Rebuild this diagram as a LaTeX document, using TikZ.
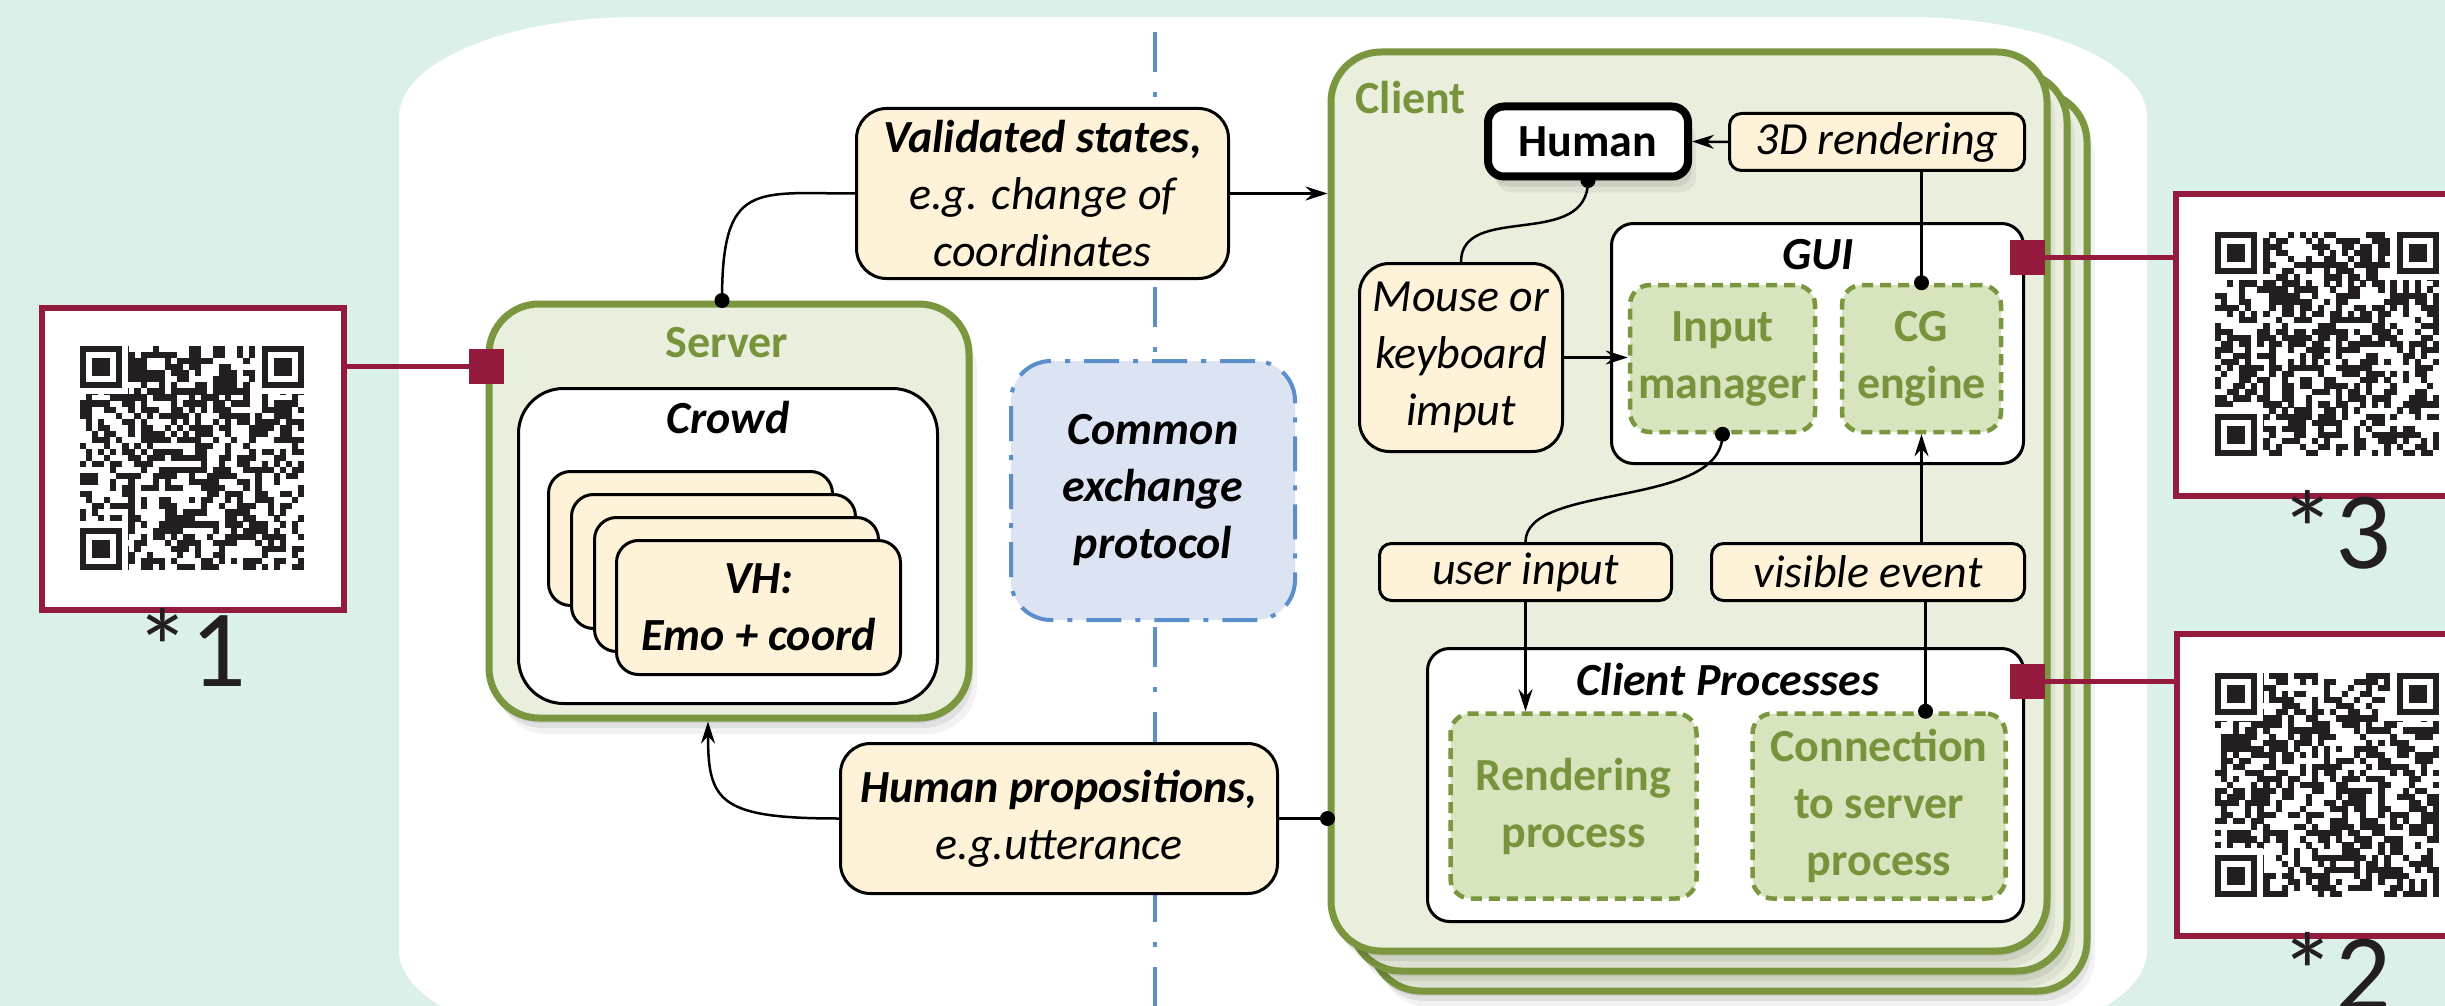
\documentclass[tikz,border=0pt]{standalone}
\usepackage{fontspec}
\setmainfont{Carlito}
\usetikzlibrary{arrows.meta}
\definecolor{bgc}{HTML}{DCF0EA}
\definecolor{grn}{HTML}{7A963E}
\definecolor{lgrn}{HTML}{E9EEDD}
\definecolor{dgf}{HTML}{D7E4BD}
\definecolor{gtxt}{HTML}{77933C}
\definecolor{cream}{HTML}{FEF2D9}
\definecolor{qred}{HTML}{951B3E}
\definecolor{blu}{HTML}{5B8FCC}
\definecolor{bluf}{HTML}{DCE3F2}
\definecolor{qrc}{HTML}{231F20}
\newcommand\fs{\fontsize{46}{57}\selectfont}
\newcommand\fbig{\fontsize{110}{120}\selectfont}
\newcommand\myqr[3]{%
\begin{scope}[shift={(#1,#2)}]
\pgfmathsetseed{#3}
\foreach \i in {0,...,36}{\foreach \j in {0,...,36}{%
\pgfmathrandominteger{\rr}{0}{1}%
\ifnum\rr=1 \fill[qrc] ({\i*6.05},{\j*6.05}) rectangle ++(6.15,6.15);\fi}}
\foreach \a/\b in {0/0,30/0,0/30}{%
\fill[white] ({(\a-1)*6.05},{(\b-1)*6.05}) rectangle ++(54.45,54.45);
\fill[qrc] ({\a*6.05},{\b*6.05}) rectangle ++(42.35,42.35);
\fill[white] ({(\a+1)*6.05},{(\b+1)*6.05}) rectangle ++(30.25,30.25);
\fill[qrc] ({(\a+2)*6.05},{(\b+2)*6.05}) rectangle ++(18.15,18.15);}
\end{scope}}
\begin{document}
\begin{tikzpicture}[x=1pt,y=-1pt,
grnbox/.style={draw=grn, line width=7pt, fill=lgrn, rounded corners=50pt, inner sep=0pt},
crm/.style={draw=black, line width=3pt, fill=cream, rounded corners=22pt, inner sep=0pt, align=center, font=\fs\itshape},
wbox/.style={draw=black, line width=3pt, fill=white, rounded corners=22pt, inner sep=0pt},
dgbox/.style={draw=grn, line width=4.5pt, dash pattern=on 11pt off 7pt, fill=dgf, rounded corners=20pt, inner sep=0pt, align=center, text=gtxt, font=\fs\bfseries},
conn/.style={line width=2.5pt},
arr/.style={conn, -{Stealth[length=22pt,width=14pt]}},
dotc/.style={circle, fill=black, inner sep=0pt, minimum size=15pt},
redsq/.style={fill=qred, minimum size=35pt, inner sep=0pt},
qline/.style={draw=qred, line width=5pt},
qbox/.style={draw=qred, line width=6pt, fill=white, inner sep=0pt, minimum size=302pt},
shd/.style={preaction={fill=black, opacity=0.07, transform canvas={shift={(0pt,-5pt)}}}, preaction={fill=black, opacity=0.07, transform canvas={shift={(4pt,-10pt)}}}, preaction={fill=black, opacity=0.05, transform canvas={shift={(8pt,-16pt)}}}},
ttl/.style={font=\fs\bfseries\itshape},
gttl/.style={font=\fs\bfseries, text=gtxt},
qlab/.style={font=\fbig, text=qrc, inner sep=0pt, anchor=base}
]
\path[use as bounding box] (0,0) rectangle (2445,1006);
\clip (0,0) rectangle (2445,1006);
\fill[bgc] (0,0) rectangle (2445,1006);
\fill[white] (399,117) .. controls (399,62) and (507,17) .. (639,17) -- (1907,17) .. controls (2040,17) and (2147,62) .. (2147,117) -- (2147,950) .. controls (2147,1005) and (2040,1050) .. (1907,1050) -- (639,1050) .. controls (507,1050) and (399,1005) .. (399,950) -- cycle;
\draw[blu, line width=4pt, dash pattern=on 40pt off 20pt on 5pt off 20pt] (1155,32) -- (1155,1010);

% QR boxes
\node[qbox] (qr1box) at (193,458.5) {};
\myqr{80}{346}{11}
\node[qlab] (l1) at (191,686) {*1};
\node[qbox] (qr3box) at (2327,344.5) {};
\myqr{2215}{232}{23}
\node[qlab] (l3) at (2336,568) {*3};
\node[qbox] (qr2box) at (2328,785) {};
\myqr{2215}{673}{37}
\node[qlab] (l2) at (2336,1010) {*2};

% validated
\node[crm, rounded corners=30pt, minimum width=372pt, minimum height=170pt] (val) at (1042.5,193.5) {\textbf{Validated states,}\\e.g. change of\\coordinates};

% server
\node[grnbox, shd, minimum width=480pt, minimum height=414pt] (server) at (729,511) {};
\node[gttl] (stitle) at (727,343) {Server};
\node[wbox, rounded corners=45pt, minimum width=419pt, minimum height=315pt] (crowd) at (728,546) {};
\node[ttl] (ctitle) at (728,418) {Crowd};
\node[crm, minimum width=284pt, minimum height=134pt] (vh1) at (690.5,538.5) {};
\node[crm, minimum width=284pt, minimum height=134pt] (vh2) at (713.5,561.5) {};
\node[crm, minimum width=284pt, minimum height=134pt] (vh3) at (736.5,584.5) {};
\node[crm, font=\fs\bfseries\itshape, minimum width=284pt, minimum height=134pt] (vh4) at (758.5,607.5) {VH:\\Emo + coord};
\node[redsq] (redS) at (486,366) {};

% common exchange
\node[draw=blu, line width=4pt, dash pattern=on 35pt off 14pt on 5pt off 14pt, fill=bluf, rounded corners=40pt, minimum width=284pt, minimum height=259pt, align=center, font=\fs\bfseries\itshape] (cep) at (1153,490.5) {Common\\exchange\\protocol};

% human propositions
\node[crm, rounded corners=30pt, minimum width=437pt, minimum height=150pt] (hprop) at (1059,818.5) {\textbf{Human propositions,}\\e.g.utterance};

% client stack
\node[grnbox, shd, minimum width=716pt, minimum height=899pt] (client3) at (1729,541.5) {};
\node[grnbox, shd, minimum width=716pt, minimum height=899pt] (client2) at (1709,521.5) {};
\node[grnbox, shd, minimum width=716pt, minimum height=899pt] (client) at (1689,501.5) {};
\node[gttl, anchor=west] (cltitle) at (1352,98) {Client};

\node[draw=black, line width=8pt, fill=white, rounded corners=16pt, shd, inner sep=0pt, minimum width=200pt, minimum height=70pt, font=\fs\bfseries] (human) at (1588,141.5) {Human};
\node[crm, rounded corners=12pt, minimum width=295pt, minimum height=57pt] (rend3d) at (1877,142) {3D rendering};

\node[wbox, minimum width=412pt, minimum height=240pt] (gui) at (1817.5,343.5) {};
\node[ttl] (guititle) at (1818,255) {GUI};
\node[dgbox, minimum width=185pt, minimum height=147pt] (inman) at (1722.5,358.5) {Input\\manager};
\node[dgbox, minimum width=159pt, minimum height=147pt] (cg) at (1921.5,358.5) {CG\\engine};
\node[redsq] (redG) at (2027,257) {};

\node[crm, rounded corners=30pt, minimum width=203pt, minimum height=188pt] (mouse) at (1461,357.5) {Mouse or\\keyboard\\imput};
\node[crm, rounded corners=12pt, minimum width=292pt, minimum height=57pt] (uin) at (1525.5,572) {user input};
\node[crm, rounded corners=12pt, minimum width=313pt, minimum height=57pt] (vis) at (1868,572) {visible event};

\node[wbox, minimum width=596pt, minimum height=273pt] (cproc) at (1725.5,785) {};
\node[ttl] (cptitle) at (1728,680) {Client Processes};
\node[dgbox, minimum width=246pt, minimum height=185pt] (rproc) at (1573.5,806) {Rendering\\process};
\node[dgbox, minimum width=253pt, minimum height=185pt] (connp) at (1879,806) {Connection\\to server\\process};
\node[redsq] (redC) at (2027,681) {};

% red lines
\draw[qline] (redS.center) -- (redS.center -| qr1box.east);
\draw[qline] (redG.center) -- (redG.center -| qr3box.west);
\draw[qline] (redC.center) -- (redC.center -| qr2box.west);
\node[redsq] (redS2) at (redS) {};
\node[redsq] (redG2) at (redG) {};
\node[redsq] (redC2) at (redC) {};

% connectors
\draw[conn] ([xshift=-7pt]server.north) .. controls +(0,-120) and +(-100,0) .. (val.west);
\node[dotc] (d1) at ([xshift=-7pt]server.north) {};
\draw[arr] (val.east) -- (val.east -| client.west);
\draw[arr] (hprop.west) .. controls +(-120,0) and +(0,80) .. ([xshift=-21pt]server.south);
\draw[conn] (hprop.east) -- (hprop.east -| client.west);
\node[dotc] (d2) at (hprop.east -| client.west) {};
\draw[arr] (rend3d.west) -- (human.east);
\draw[conn] (human.south) .. controls +(0,70) and +(0,-60) .. (mouse.north);
\node[dotc] (d3) at (human.south) {};
\draw[conn] (cg.north |- rend3d.south) -- (cg.north);
\node[dotc] (d4) at (cg.north) {};
\draw[arr] (mouse.east) -- (mouse.east -| inman.west);
\draw[conn] (inman.south) .. controls +(0,75) and +(0,-60) .. (uin.north);
\node[dotc] (d5) at (inman.south) {};
\draw[arr] (cg.south |- vis.north) -- (cg.south);
\draw[arr] (uin.south) -- (uin.south |- rproc.north);
\draw[conn] ([xshift=4pt]cg.south |- connp.north) -- ([xshift=4pt]cg.south |- vis.south);
\node[dotc] (d6) at ([xshift=4pt]cg.south |- connp.north) {};
\end{tikzpicture}
\end{document}
